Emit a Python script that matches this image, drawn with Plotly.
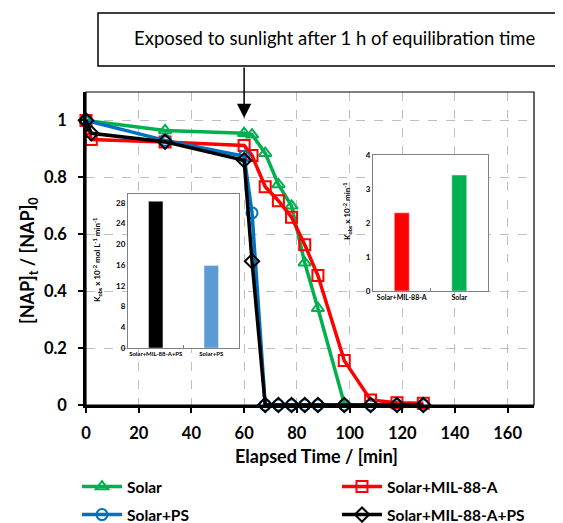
import plotly.graph_objects as go

# ---- data ----
t_solar = [0, 30, 60, 63, 68, 73, 78, 83, 88, 98, 108, 118, 128]
v_solar = [1.0, 0.965, 0.955, 0.95, 0.885, 0.775, 0.70, 0.50, 0.34, 0.005, -0.01, -0.01, -0.01]

t_mil = [0, 2, 30, 60, 63, 68, 73, 78, 83, 88, 98, 108, 118, 128]
v_mil = [1.0, 0.933, 0.924, 0.912, 0.877, 0.767, 0.718, 0.66, 0.563, 0.455, 0.156, 0.018, 0.008, 0.006]

t_ps = [0, 30, 60, 63, 68, 73, 78, 83, 88, 98, 108, 118, 128]
v_ps = [1.0, 0.93, 0.874, 0.675, 0.0, 0.0, 0.0, 0.0, 0.0, 0.0, 0.0, 0.0, 0.0]

t_milps = [0, 2, 30, 60, 63, 68, 73, 78, 83, 88, 98, 108, 118, 128]
v_milps = [1.0, 0.955, 0.925, 0.86, 0.505, 0.0, 0.0, 0.0, 0.0, 0.0, 0.0, 0.0, 0.0, 0.0]

inset1_cats = ["Solar+MIL-88-A+PS", "Solar+PS"]
inset1_vals = [28.3, 15.9]
inset2_cats = ["Solar+MIL-88-A", "Solar"]
inset2_vals = [2.30, 3.41]

x_ticks = [0, 20, 40, 60, 80, 100, 120, 140, 160]
y_ticks = [0, 0.2, 0.4, 0.6, 0.8, 1.0]
y_tick_text = ["0", "0.2", "0.4", "0.6", "0.8", "1"]

FONT = "Lato"
GREEN = "#00B050"
RED = "#FF0000"
BLUE = "#0070C0"
BLACK = "#000000"

fig = go.Figure()

series = [
    ("Solar", t_solar, v_solar, GREEN, "triangle-up-open", "legend"),
    ("Solar+MIL-88-A", t_mil, v_mil, RED, "square-open", "legend2"),
    ("Solar+PS", t_ps, v_ps, BLUE, "circle-open", "legend3"),
    ("Solar+MIL-88-A+PS", t_milps, v_milps, BLACK, "diamond-open", "legend4"),
]
for name, t, v, col, sym, leg in series:
    fig.add_trace(go.Scatter(
        x=t, y=v, name=name, mode="lines+markers",
        line=dict(color=col, width=3.5),
        marker=dict(symbol=sym, size=11, color=col, line=dict(width=2, color=col)),
        cliponaxis=False, legend=leg,
    ))

fig.add_trace(go.Bar(x=inset1_cats, y=inset1_vals, xaxis="x2", yaxis="y2",
                     marker=dict(color=[BLACK, "#5B9BD5"]), width=0.26, showlegend=False))
fig.add_trace(go.Bar(x=inset2_cats, y=inset2_vals, xaxis="x3", yaxis="y3",
                     marker=dict(color=[RED, GREEN]), width=0.26, showlegend=False))

# page has an 8px body margin; figure occupies page pixels 8..563 x 8..523
OFF = 8
W, H = 563 - OFF, 523 - OFF
PL, PR, PT, PB = 86, 534, 92, 405  # plot area in page pixels
L, R, T, B = PL - OFF, 563 - PR, PT - OFF, 523 - PB
pw, ph = PR - PL, PB - PT

def px(xp):
    return (xp - PL) / pw

def py(yp):
    return (PB - yp) / ph

grid = dict(showgrid=True, gridcolor="#BFBFBF", gridwidth=1.3, griddash="dash")

fig.update_layout(
    width=W, height=H, margin=dict(l=L, r=R, t=T, b=B, autoexpand=False),
    plot_bgcolor="white", paper_bgcolor="white",
    font=dict(family=FONT, color="black"),
    xaxis=dict(range=[0, 170], tickvals=x_ticks, **grid, zeroline=False, automargin=False,
               showline=True, linecolor="black", linewidth=2.5,
               ticks="outside", ticklen=5, tickwidth=1.5, tickcolor="black",
               ticklabelstandoff=6,
               tickfont=dict(size=16.5, weight="bold")),
    yaxis=dict(range=[0, 1.1], tickvals=y_ticks, ticktext=y_tick_text, **grid, zeroline=False,
               automargin=False,
               showline=True, linecolor="black", linewidth=2.5,
               ticks="outside", ticklen=5, tickwidth=1.5, tickcolor="black",
               ticklabelstandoff=8,
               tickfont=dict(size=16.5, weight="bold")),
    xaxis2=dict(domain=[px(128), px(239)], anchor="y2", range=[-0.5, 1.5], automargin=False,
                showline=True, linecolor="#808080", linewidth=1, mirror=True, tickangle=0,
                showgrid=False, zeroline=False, ticks="inside", ticklen=3, tickson="boundaries",
                tickcolor="#808080", tickfont=dict(size=6, weight="bold")),
    yaxis2=dict(domain=[py(348), py(194)], anchor="x2", range=[0, 29.7], automargin=False,
                tickvals=[0, 4, 8, 12, 16, 20, 24, 28],
                showline=True, linecolor="#808080", linewidth=1, mirror=True,
                showgrid=False, zeroline=False, ticks="",
                tickfont=dict(size=8, weight="bold")),
    xaxis3=dict(domain=[px(373), px(488)], anchor="y3", range=[-0.5, 1.5], automargin=False,
                showline=True, linecolor="#808080", linewidth=1, mirror=True, tickangle=0,
                showgrid=False, zeroline=False, ticks="inside", ticklen=3, tickson="boundaries",
                tickcolor="#808080", tickfont=dict(size=7, weight="bold")),
    yaxis3=dict(domain=[py(291), py(155)], anchor="x3", range=[0, 4], automargin=False,
                tickvals=[0, 1, 2, 3, 4],
                showline=True, linecolor="#808080", linewidth=1, mirror=True,
                showgrid=False, zeroline=False, ticks="",
                tickfont=dict(size=8, weight="bold")),
)

legfont = dict(family=FONT, size=15.5, weight="bold", color="black")
for key, xpix, ypix in [("legend", 77, 487), ("legend2", 337, 487),
                        ("legend3", 77, 515), ("legend4", 337, 515)]:
    fig.update_layout({key: dict(x=(xpix - OFF) / W, y=1 - (ypix - OFF) / H,
                                 xanchor="left", yanchor="middle",
                                 xref="container", yref="container", font=legfont,
                                 bgcolor="rgba(0,0,0,0)", borderwidth=0, itemwidth=40)})

def label(xp, yp, text, size, weight="bold", angle=0):
    fig.add_annotation(xref="paper", yref="paper", x=px(xp), y=py(yp),
                       xanchor="center", yanchor="middle", textangle=angle,
                       text=text, showarrow=False,
                       font=dict(family=FONT, size=size, weight=weight, color="black"))

# axis titles
label(316, 456, "Elapsed Time / [min]", 18)
label(28, 260, "[NAP]<sub>t</sub> / [NAP]<sub>0</sub>", 18, angle=-90)
label(97, 260, "K<sub>obs</sub> x 10<sup>-2</sup> mol L<sup>-1</sup> min<sup>-1</sup>", 8, angle=-90)
label(347, 211, "K<sub>obs</sub> x 10<sup>-2</sup> min<sup>-1</sup>", 8, angle=-90)

# plot frame (thin top/right)
fig.add_shape(type="rect", xref="paper", yref="paper", x0=0, x1=1, y0=0, y1=1,
              line=dict(color="black", width=1.2), layer="above")

# annotation box
fig.add_shape(type="rect", xref="paper", yref="paper",
              x0=px(98), x1=px(568), y0=py(66), y1=py(13),
              line=dict(color="black", width=1.5), fillcolor="white")
label(335, 38, "Exposed to sunlight after 1 h of equilibration time", 18.5, weight="normal")
fig.add_annotation(x=60, y=py(118) * 1.1, xref="x", yref="y", text="",
                   showarrow=True, ax=0, ay=-52, arrowhead=2, arrowsize=1.9,
                   arrowwidth=1.5, arrowcolor="black")

fig.write_html("out.html")
